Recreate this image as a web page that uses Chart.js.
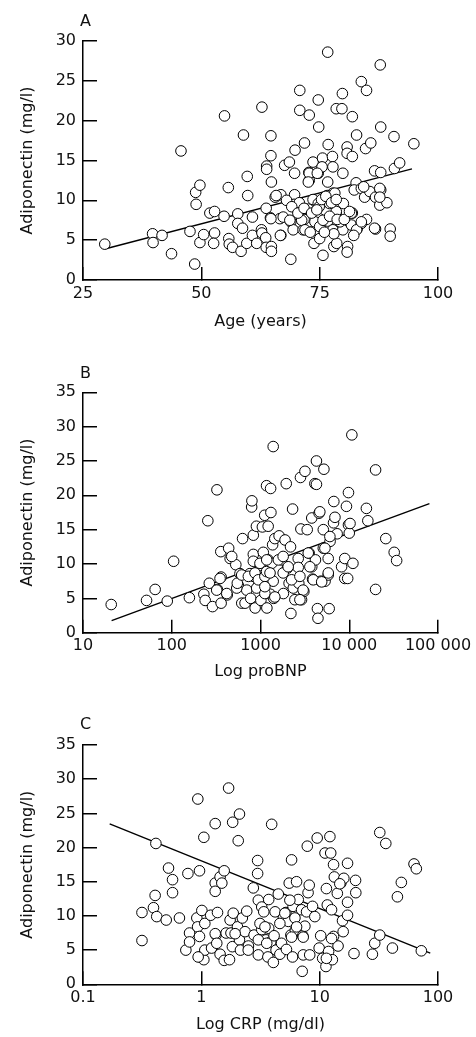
<!DOCTYPE html>
<html>
<head>
<meta charset="utf-8">
<script src="https://cdn.jsdelivr.net/npm/chart.js@4.4.1/dist/chart.umd.min.js"></script>
<style>
body{margin:0;background:#fff;width:476px;height:1037px;position:relative;overflow:hidden;}
.panel{position:absolute;left:0;width:476px;}
.tag{position:absolute;left:80px;font:16px "DejaVu Sans",sans-serif;line-height:1;color:#111;}
</style>
</head>
<body>
<div class="panel" style="top:0;height:345px;"><canvas id="chartA"></canvas></div>
<div class="panel" style="top:330px;height:355px;"><canvas id="chartB"></canvas></div>
<div class="panel" style="top:670px;height:367px;"><canvas id="chartC"></canvas></div>
<div class="tag" style="top:13px;">A</div>
<div class="tag" style="top:365px;">B</div>
<div class="tag" style="top:716px;">C</div>
<script>
// panel A: age vs adiponectin
const ageA=[29.6,39.7,39.8,41.7,43.7,45.7,47.6,48.6,48.8,49.7,48.9,49.7,50.5,51.8,52.8,52.8,52.6,54.9,54.8,55.7,55.8,55.9,56.6,57.7,57.7,58.7,58.4,58.9,59.7,59.8,59.6,60.8,60.8,61.7,62.8,62.7,62.8,63.7,63.8,63.8,63.6,63.7,64.7,64.7,64.8,64.6,64.8,64.8,65.6,66.8,66.6,66.8,67.6,68.6,68.9,68.9,69.4,69.8,69.7,69.7,69.6,70.8,70.8,70.7,71.8,71.7,71.5,72.8,72.7,72.8,72.6,73.6,73.6,73.8,74.0,74.7,74.8,74.7,74.7,74.9,75.0,75.6,75.5,75.7,75.6,76.7,76.8,76.7,76.7,76.7,77.7,77.8,77.8,78.0,77.8,78.5,78.5,78.6,79.8,79.7,79.9,80.0,79.9,80.8,80.8,80.9,80.8,81.9,81.9,81.9,82.8,82.7,82.3,82.9,81.7,83.8,84.9,84.7,85.8,83.8,84.5,84.9,83.8,85.6,86.6,86.8,86.8,87.8,87.9,87.9,87.9,87.7,89.2,89.9,89.9,90.7,90.8,91.9,94.9,
  64.7,65.8,66.7,67.3,68.7,71.2,71.9,74.0,74.9,75.0,75.7,76.6,77.1,78.2,78.5,79.3,81.7,82.8,83.8,86.6,72.8,72.6,74.5,84.3,87.7,87.7,
  68.0,69.1,70.4,71.7,73.3,74.4,75.4,76.3,77.5,78.5,77.1,78.7,78.0,80.2,81.3,82.2,76.0,73.0];
const adipA=[4.5,5.8,4.7,5.6,3.3,16.2,6.1,2.0,11.0,11.9,9.5,4.7,5.7,8.4,8.6,5.9,4.6,20.6,8.0,11.6,5.2,4.5,4.1,8.3,7.1,6.5,3.6,18.2,13.0,10.6,4.6,7.9,5.6,4.6,21.7,6.3,5.9,9.0,14.3,13.9,5.3,4.1,18.1,15.6,12.3,7.8,4.2,3.6,10.4,10.7,7.7,5.6,14.4,14.8,2.6,7.3,6.3,16.3,13.4,10.7,9.5,23.8,21.3,9.7,17.2,7.6,6.3,20.7,13.5,12.5,8.9,14.8,10.1,4.6,6.3,22.6,19.2,13.4,9.6,7.7,5.2,15.3,14.2,3.1,7.3,28.6,17.0,12.3,9.8,7.4,15.5,14.2,10.9,4.2,6.3,21.5,8.4,4.6,23.4,21.5,13.4,9.6,6.3,16.7,15.9,4.2,3.5,20.5,15.5,8.4,18.2,12.2,11.3,6.4,6.9,24.9,23.8,16.5,17.2,11.5,10.4,7.6,7.1,11.1,13.7,10.4,6.4,27.0,19.2,13.5,11.3,9.4,9.7,6.4,5.5,18.0,14.0,14.7,17.1,
  7.7,10.6,5.6,7.9,7.5,7.5,6.3,7.3,9.2,6.7,7.5,10.6,9.6,10.9,8.6,7.3,8.4,6.3,7.3,6.5,13.4,12.3,13.4,11.7,11.5,10.4,
  10.0,9.2,8.4,9.0,8.4,8.8,10.1,10.5,9.7,10.1,8.0,7.6,5.8,7.6,8.6,5.6,6.0,6.0];
const fitAx=[30,94.5];
const fitAy=[3.95,13.95];
const ticksAx=[25,50,75,100];
const labelsAx=['25','50','75','100'];

// panel B: proBNP vs adiponectin
const bnpB=[20.8,52,65,89,105,158,230,238,255,265,288,323,327,357,360,360,438,422,455,527,562,587,628,615,670,700,760,795,800,830,830,830,830,775,870,900,950,1000,1010,1050,1075,1115,1170,1180,1220,1220,1280,1300,1310,1340,1290,1390,1370,1390,1410,1450,1620,1730,1810,1890,1950,2010,2100,2180,2200,2300,2340,2440,2660,2660,2700,2820,2850,2900,3080,3170,3360,3530,3780,3780,3860,4100,4160,4270,4270,4380,4440,4570,4660,4780,5100,5180,5100,5340,5790,5790,5940,6080,6650,6700,6900,7300,8200,8900,8900,9300,9600,9800,9800,10000,10200,10700,11000,15600,16200,19800,19800,25800,32100,34200,
  321,350,417,474,540,548,614,730,867,905,945,986,1120,1120,1170,1175,1280,1120,1450,1590,1800,1800,2050,2240,2780,3020,2780,3450,3600,3930,4890,5320,5800,6050];
const adipB=[4.1,4.7,6.3,4.6,10.4,5.1,5.6,4.7,16.3,7.2,3.8,20.8,6.3,11.8,8.1,4.3,12.3,5.5,10.8,9.9,6.9,8.6,13.7,4.3,4.3,6.2,8.6,18.3,19.2,14.2,11.4,10.4,8.2,5.0,3.6,15.5,6.9,9.8,4.7,15.4,11.7,17.1,21.4,3.6,15.5,10.6,7.9,21.0,17.5,10.1,5.6,27.1,12.8,7.5,5.0,13.7,14.1,10.6,5.7,13.5,21.7,9.4,7.2,12.5,2.8,18.0,6.5,4.8,10.8,9.5,7.2,22.6,15.1,4.8,6.0,23.5,15.0,11.6,9.6,16.7,7.8,21.7,10.6,25.0,21.6,3.5,2.1,17.4,17.6,7.5,15.0,23.8,12.3,7.5,10.8,8.4,3.5,13.3,16.0,19.1,16.8,14.4,9.6,10.8,7.9,18.4,7.9,20.4,15.7,14.5,15.9,28.8,10.1,18.1,16.3,6.3,23.7,13.7,11.7,10.5,
  6.2,7.9,5.7,11.1,6.5,7.2,8.4,8.2,8.7,6.5,7.7,10.1,5.7,8.2,8.9,10.6,8.7,6.7,5.2,10.6,11.1,8.7,9.6,7.7,8.2,6.2,4.8,11.6,9.6,7.7,7.4,12.3,8.7,14.0];
const fitBx=[21,80000];
const fitBy=[1.75,18.8];
const ticksBx=[10,100,1000,10000,100000];
const labelsBx=['10','100','1000','10 000','100 000'];

// panel C: CRP vs adiponectin
const crpC=[0.315,0.315,0.394,0.407,0.413,0.42,0.505,0.528,0.571,0.571,0.653,0.74,0.77,0.795,0.795,0.916,0.934,0.93,0.965,0.965,0.977,1.01,1.05,1.05,1.07,1.07,1.2,1.22,1.31,1.31,1.31,1.33,1.37,1.44,1.44,1.49,1.56,1.56,1.62,1.70,1.73,1.75,1.78,1.83,1.84,1.86,2.02,2.05,2.1,2.1,2.14,2.22,2.34,2.42,2.5,2.75,2.79,2.99,2.99,3.03,3.03,3.24,3.24,3.37,3.52,3.65,3.71,3.71,3.86,3.93,4.06,4.12,4.2,4.28,4.47,4.61,4.76,4.93,5.19,5.24,5.43,5.53,5.71,5.79,5.9,5.96,6.18,6.23,6.38,6.59,7.03,7.12,7.2,7.26,7.5,7.75,7.86,7.98,8.16,8.24,8.7,9.1,9.53,9.9,10.2,10.6,11.1,11.3,11.4,11.6,11.9,12.2,12.4,12.6,12.8,13.1,13.1,13.3,14.1,14.3,15.1,15.6,15.8,16.0,17.2,17.2,17.2,19.5,20.1,20.2,27.9,29.2,32.2,32.2,36.2,41.2,45.4,49.0,62.7,65.6,72.3,
  0.94,1.31,1.35,1.93,2.49,3.03,3.13,3.45,3.57,4.61,5.08,5.6,6.38,7.26,5.79,11.4,12.6,14.8];
const adipC=[10.5,6.4,11.2,13.0,20.6,9.9,9.4,17.0,15.3,13.4,9.7,5.0,16.2,7.5,6.2,9.7,27.1,8.4,7.0,16.6,4.0,10.8,21.5,3.6,5.0,8.9,10.1,5.3,23.5,14.8,13.6,7.2,10.5,15.7,4.4,14.8,3.5,16.6,7.5,28.7,3.6,9.4,7.5,5.5,23.7,10.4,8.4,21.0,24.9,6.5,5.0,9.7,7.7,10.7,5.6,14.1,7.2,18.1,16.2,4.3,12.3,11.3,8.0,10.6,6.5,4.0,12.4,8.2,6.2,23.4,3.2,7.1,10.6,5.0,13.2,4.4,6.0,9.7,10.5,5.1,9.2,14.8,7.2,18.2,4.0,11.4,9.7,7.9,15.0,12.4,10.9,1.9,7.1,4.3,8.5,10.6,20.2,13.4,14.5,4.3,11.4,9.9,21.4,5.3,7.1,3.8,19.2,2.6,14.0,11.6,4.8,21.6,19.2,10.9,3.6,17.5,7.0,15.7,13.3,5.6,14.8,9.3,7.7,15.5,17.7,10.1,12.0,4.5,15.2,13.4,4.4,6.0,22.2,7.2,20.6,5.3,12.8,14.9,17.6,16.9,4.9,
  4.0,7.4,6.0,7.4,5.0,6.5,8.9,8.4,6.0,8.9,10.4,12.3,8.4,6.9,6.9,3.8,6.7,14.7];
const fitCx=[0.168,86];
const fitCy=[23.45,4.55];
const ticksCx=[0.1,1,10,100];
const labelsCx=['0.1','1','10','100'];

const ticksY30=[0,5,10,15,20,25,30];
const ticksY35=[0,5,10,15,20,25,30,35];

const FONT='"DejaVu Sans", sans-serif';
const INK='#111';

function pts(xs,ys){ return xs.map((v,i)=>({x:v,y:ys[i]})); }

function panel(id,c){
  new Chart(document.getElementById(id),{
    type:'scatter',
    data:{datasets:[
      {data:pts(c.x,c.y),pointRadius:5.3,pointHoverRadius:5.3,pointBorderWidth:1,
        pointBorderColor:'#000',pointBackgroundColor:'#fff'},
      {data:pts(c.fx,c.fy),showLine:true,borderColor:'#000',borderWidth:1.4,pointRadius:0,pointHoverRadius:0}
    ]},
    options:{
      responsive:true,maintainAspectRatio:false,animation:false,
      layout:{padding:{top:c.top,right:38,left:0,bottom:0}},
      plugins:{legend:{display:false},tooltip:{enabled:false}},
      events:[],
      scales:{
        x:{
          type:c.xType,min:c.xTicks[0],max:c.xTicks[c.xTicks.length-1],
          afterBuildTicks:s=>{ s.ticks=c.xTicks.map(v=>({value:v})); },
          afterFit:s=>{ s.height=c.xH; s.paddingLeft=0; s.paddingRight=0; },
          grid:{drawOnChartArea:false,color:'#000',lineWidth:1.5,tickLength:-13},
          border:{color:'#000',width:1.5},
          ticks:{color:INK,font:{family:FONT,size:16},padding:17,maxRotation:0,autoSkip:false,
            callback:(v,i)=>c.xLabels[i]},
          title:{display:true,text:c.xTitle,color:INK,font:{family:FONT,size:16},padding:{top:0,bottom:c.xtPad}}
        },
        y:{
          type:'linear',min:0,max:c.yTicks[c.yTicks.length-1],
          afterBuildTicks:s=>{ s.ticks=c.yTicks.map(v=>({value:v})); },
          afterFit:s=>{ s.width=83; s.paddingTop=0; s.paddingBottom=0; },
          grid:{drawOnChartArea:false,color:'#000',lineWidth:1.5,tickLength:-14},
          border:{color:'#000',width:1.5},
          ticks:{color:INK,font:{family:FONT,size:16},padding:21,autoSkip:false},
          title:{display:true,text:'Adiponectin (mg/l)',color:INK,font:{family:FONT,size:16},padding:{top:18,bottom:0}}
        }
      }
    }
  });
}

panel('chartA',{x:ageA,y:adipA,fx:fitAx,fy:fitAy,xType:'linear',xTicks:ticksAx,xLabels:labelsAx,
  yTicks:ticksY30,top:41,xH:65,xTitle:'Age (years)',xtPad:14});
panel('chartB',{x:bnpB,y:adipB,fx:fitBx,fy:fitBy,xType:'logarithmic',xTicks:ticksBx,xLabels:labelsBx,
  yTicks:ticksY35,top:62.3,xH:52.3,xTitle:'Log proBNP',xtPad:4});
panel('chartC',{x:crpC,y:adipC,fx:fitCx,fy:fitCy,xType:'logarithmic',xTicks:ticksCx,xLabels:labelsCx,
  yTicks:ticksY35,top:75,xH:52.7,xTitle:'Log CRP (mg/dl)',xtPad:2.5});
</script>
</body>
</html>
